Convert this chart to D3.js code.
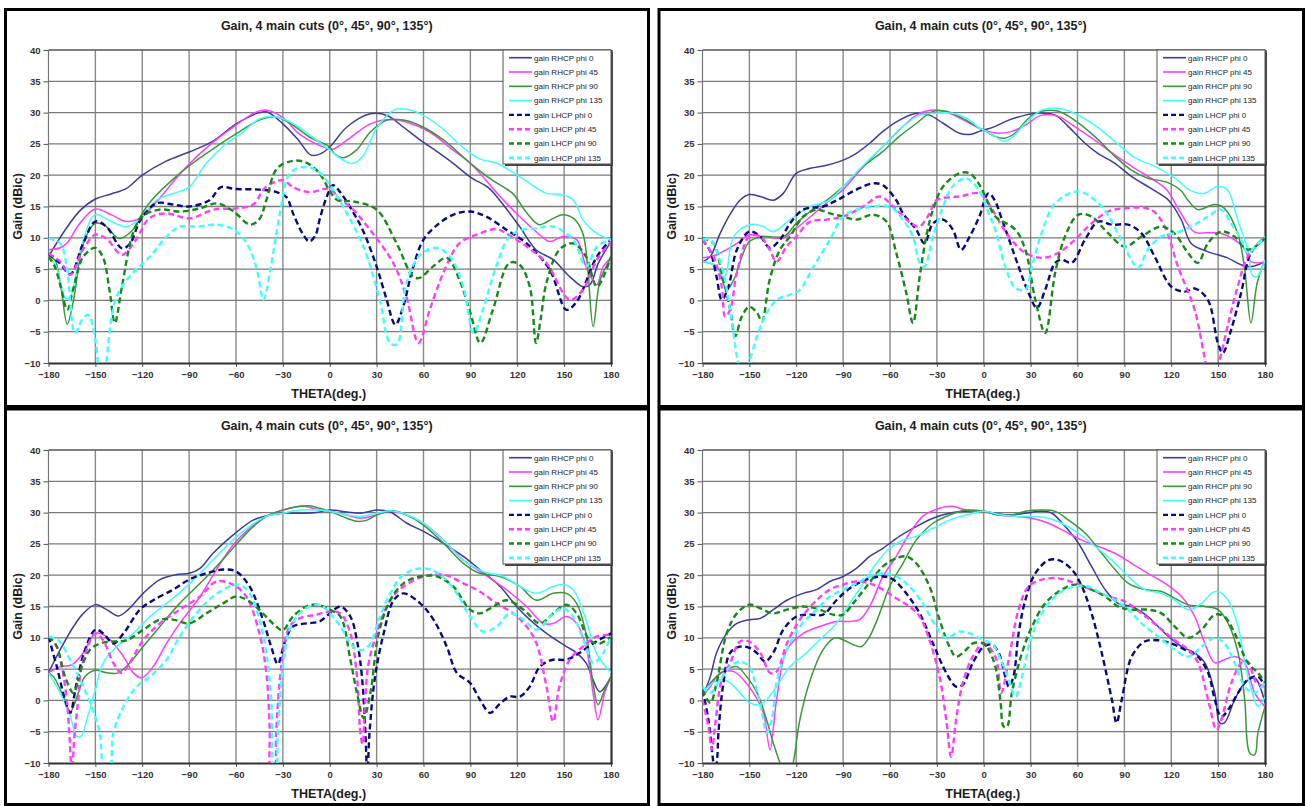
<!DOCTYPE html>
<html><head><meta charset="utf-8">
<script src="https://cdn.jsdelivr.net/npm/d3@7"></script>
<style>
html,body{margin:0;padding:0;background:#fff;}
svg{display:block;}
text{font-family:"Liberation Sans", Arial, sans-serif;}
</style></head><body>
<svg id="chart" width="1306" height="806"></svg>
<script>
// Axis ticks
const thetaTicks = [-180, -150, -120, -90, -60, -30, 0, 30, 60, 90, 120, 150, 180];
const gainTicks = [-10, -5, 0, 5, 10, 15, 20, 25, 30, 35, 40];
const chartTitle = "Gain, 4 main cuts (0°, 45°, 90°, 135°)";
const xTitle = "THETA(deg.)";
const yTitle = "Gain (dBic)";
const seriesNames = ["gain RHCP phi 0", "gain RHCP phi 45", "gain RHCP phi 90", "gain RHCP phi 135",
                     "gain LHCP phi 0", "gain LHCP phi 45", "gain LHCP phi 90", "gain LHCP phi 135"];

// ---- top-left cut set: [theta (deg), gain (dBic)] ----
const tlRhcp0 = [[-180,7],[-170,11],[-160,14.3],[-150,16.2],[-140,17],[-130,17.9],[-120,20],[-105,22.2],[-90,23.7],[-75,25.4],[-60,28.2],[-45,30],[-40,30.1],[-30,28.2],[-20,25.6],[-12,23.2],[-6,23.4],[0,24.5],[11,27.7],[26,29.8],[37,29.5],[47,27.7],[58,25.6],[68.5,23.8],[79,21.9],[90,19.7],[102,17.9],[110,15.6],[121.5,11.8],[132,8.1],[143,6.5],[153.6,3.8],[162,2.2],[166.5,2.5],[172,6],[180,9.4]];
const tlRhcp45 = [[-180,8.1],[-172.5,8.4],[-168,9.2],[-160,12.3],[-150,14.6],[-140,13.7],[-130,12.6],[-121.5,13.1],[-110,16],[-100,19],[-90,21.8],[-75,25.2],[-60,28],[-48,30],[-41,30.4],[-30,29.2],[-19.5,26.6],[-7,24.8],[0,24.2],[2.5,24.2],[11,25.6],[26,28.2],[38.7,28.9],[49,28.5],[64,26.9],[79,24],[90,21.9],[109,16.6],[121.5,13.4],[132,11],[140.8,9.4],[149,10.2],[158,9.7],[164,5.4],[170.8,2.5],[175,5.4],[180,6.8]];
const tlRhcp90 = [[-180,7],[-176,6.5],[-172,2],[-168,-3.8],[-164,0],[-157.7,9.1],[-150,12.3],[-143,11.8],[-135,9.9],[-126,11.3],[-120,13.9],[-114,16],[-96,20.3],[-84,22.6],[-73,24.5],[-60,26.6],[-45,28.8],[-34,29.3],[-23,27.9],[-13,26.1],[0,24.5],[3,23.4],[9,22.8],[17,24],[26,26.9],[36.5,28.8],[47,28.8],[58,27.9],[73,25.6],[90,21.9],[104,19.2],[117,17.1],[126,14],[134,12.1],[143,13.1],[149,13.7],[156,13.1],[162,10.7],[165,5.4],[168.6,-4.2],[173,3.2],[180,6.8]];
const tlRhcp135 = [[-180,7],[-175,5.4],[-169,0.3],[-166,0.6],[-159,8.6],[-150,13.7],[-140,12.6],[-130,11.8],[-121,13.1],[-111,16],[-101,17],[-90,18.1],[-79,21.9],[-66,25.1],[-57,26.6],[-45,29],[-34,29.3],[-23,28.2],[-8.5,25.6],[0,24],[5,23],[11,22.1],[15,21.9],[21.6,23.2],[30,27.5],[41,30.4],[47,30.6],[58,29.8],[71,27.7],[85,24.5],[96,22.6],[107,21.9],[117,20.5],[128,18.7],[138.6,17.1],[149,16.9],[156,16],[162,12.9],[171,10.7],[180,9.7]];
const tlLhcp0 = [[-180,7.5],[-173,6],[-166,4.2],[-158,9],[-150,12.6],[-143,11.8],[-133,8.3],[-128,9],[-121,12.9],[-111,15.5],[-100,15.3],[-90,15],[-77,16],[-69.6,18.1],[-61,17.8],[-45,17.7],[-34,17.3],[-27.7,16.5],[-23.5,13.9],[-17,10.5],[-13,9.4],[-9,10.5],[-6.5,12.9],[-2,16.5],[2,18.4],[6,17.5],[12.8,15],[21,11.3],[30,5.4],[36,0.5],[42,-3.9],[47,-1],[53,5],[60,9.7],[70,12.3],[80,13.8],[90,14.2],[100,13.4],[113,11.3],[126,9.1],[140.8,4.9],[151.5,-1.5],[158,-0.2],[171,7],[180,9.7]];
const tlLhcp45 = [[-180,7.5],[-172.5,6.2],[-166,4.1],[-158,8.1],[-150,10.5],[-143,9.9],[-133,7.3],[-124,9.7],[-115.5,13.1],[-104.5,13.9],[-89.6,13.1],[-74.5,14.5],[-60,14.7],[-49,15.3],[-41,18.1],[-30,19.2],[-23.6,18.1],[-13,17.3],[0,17.8],[6.8,16],[13,15],[25.7,11.3],[40.6,6],[49,0.6],[56.8,-6.8],[64,-1.5],[72.7,4.4],[83,9.1],[96,10.7],[107,11.4],[113,10.7],[126,8.6],[138.6,6],[153.6,0.1],[162,1.7],[171,6.5],[180,9.4]];
const tlLhcp90 = [[-180,7],[-176,5.4],[-172,2],[-168,-1.5],[-164,2],[-157.7,7],[-150,8.4],[-145,6.8],[-141,1.7],[-137.5,-3.6],[-133,2.2],[-126,10.7],[-120,13.4],[-109,14.5],[-96,14.2],[-83,14.7],[-72,15.5],[-61.5,14.2],[-51,12.1],[-45,13],[-40.6,16],[-34,21],[-23.6,22.3],[-15,22],[-6.6,20.3],[0,17.5],[5,16],[15.3,15.8],[30,14.5],[42.8,9.1],[53.4,3.8],[57.6,3.6],[66,5.4],[75,6.8],[83,3.3],[90,-2],[96.4,-6.8],[104.4,-1.5],[115,6],[121.5,5.7],[128,2.2],[132,-6.8],[135,-3],[138.6,2.7],[147,8.1],[155.8,9.1],[164,7],[171,2.2],[180,7]];
const tlLhcp135 = [[-180,9.9],[-172.5,9.1],[-168.3,5.4],[-163,-5.2],[-158.5,-3.1],[-154.5,-2.3],[-150,-6.3],[-147,-12],[-144,-13],[-142.8,-9.5],[-136.4,0.6],[-126,4.4],[-115,7],[-104.5,10.2],[-96,11.8],[-85,11.8],[-72,12.1],[-61.5,11.3],[-53,9.1],[-46.6,4.9],[-42.5,0.1],[-38,4.9],[-31.9,13.9],[-25.5,20.3],[-17,21.3],[-8.5,20.8],[0,18.5],[5,16.5],[11,13.9],[21.6,8.6],[32,0.1],[38.6,-6.8],[43,-7],[49,2.7],[57.9,7.3],[68.6,8.4],[77,7],[85.5,2.2],[92,-5.2],[98,-1.5],[106.5,5.4],[115,10.2],[123.6,11.3],[132,11.5],[143,11.8],[155.8,9.7],[164,5.4],[171,8.6],[180,9.7]];

// ---- top-right cut set ----
const trRhcp0 = [[-180,6.2],[-175,7],[-168.7,10.7],[-162,13.9],[-156,16],[-150,16.9],[-143,16.6],[-134.7,16],[-128.3,17.1],[-120,20.3],[-111,21.1],[-100.6,21.6],[-90,22.4],[-81.5,23.5],[-73,25.1],[-64.5,27],[-54,28.8],[-43,29.9],[-34.7,29.6],[-26,28.3],[-15.5,26.7],[-9,26.5],[-2.8,27],[0,27.2],[7.4,27.8],[16,28.8],[26.6,29.6],[33,29.9],[45.7,29.6],[54,27.8],[64.8,25.1],[73,23.5],[84,21.9],[94.5,19.8],[107,17.9],[117,16.3],[120,15.5],[126.4,12.9],[132.8,9.1],[143.4,7.8],[156,6.8],[164.7,5.7],[171,5.4],[180,6.2]];
const trRhcp45 = [[-180,6.8],[-171,7.3],[-158,9.1],[-150,10.5],[-141,10.2],[-128,10],[-120,11.5],[-107,14.2],[-98.5,16],[-90,17.7],[-77,21.4],[-64.5,24.6],[-54,27.2],[-43,29.6],[-32.5,30.4],[-22,29.9],[-11.3,28.6],[-2.8,27.5],[0,27.2],[9.6,26.7],[18,27],[26.6,28],[37,29.6],[47.8,29.4],[58,27.8],[71,25.6],[84,23.2],[96.7,21.1],[109,19.2],[117,17.7],[126,14],[135,10.9],[143,10.8],[152,10.7],[162.7,9.3],[167,8.2],[171,6.2],[180,6.1]];
const trRhcp90 = [[-180,6.2],[-171,5.4],[-164.5,1.7],[-160,3.3],[-150,9.4],[-141,10.2],[-128,10.2],[-120,12.3],[-107,15],[-100.6,16],[-90,18.2],[-77,21.4],[-64.5,23.8],[-54,26.2],[-43,28.3],[-32.5,30.2],[-24,30.2],[-11.3,28.8],[-2.8,27.5],[0,27.2],[7.4,26.2],[12.8,25.9],[20,26.7],[28.7,29.1],[37,30.2],[47.8,30.2],[58,28.8],[71,26.2],[84,23],[94.5,20.8],[105,19.5],[117,18.9],[126,17.6],[130.7,16],[137,14.5],[147.7,15.3],[154,14.7],[162.5,10.7],[166.8,5.4],[171,-3.6],[175,2.8],[180,6.5]];
const trRhcp135 = [[-180,6.2],[-173,5.7],[-166,3.8],[-160,10.2],[-150,12.1],[-141,11.8],[-134.7,11],[-124,12.9],[-111,15],[-98.5,16],[-90,18.2],[-77,21.6],[-64.5,24.6],[-51.7,27.8],[-41,29.6],[-30.4,29.9],[-20,29.9],[-9,28.8],[-2.8,27.5],[0,27.2],[7.4,26.2],[12.8,25.4],[19,26.2],[26.6,28.3],[37,30.4],[47.8,30.7],[58,29.9],[71,28],[84,25.4],[96.7,22.8],[109,21.5],[122,19.6],[132.8,17.5],[141,17.1],[149.8,18.2],[156,17.7],[162.5,12.9],[169,8.1],[172,4],[175,3.8],[180,6.5]];
const trLhcp0 = [[-180,9.7],[-175,7.8],[-171,3.8],[-167.7,0.1],[-163.4,2.2],[-158,8.1],[-150,11],[-143,10.2],[-137,8.4],[-130.4,9.7],[-124,12.3],[-115.5,14.5],[-102.8,15],[-94,16],[-81.5,17.7],[-71,18.7],[-64.5,18.4],[-56,16],[-51.7,13.9],[-43.2,11.3],[-37.9,9.1],[-32.5,12.3],[-26,12.9],[-19.8,11.3],[-14.5,8.1],[-9,10.2],[-2.8,13.4],[3,17.1],[7,16],[11.7,12.9],[22.3,5.4],[28.7,1.2],[34,-1.2],[39.3,1.7],[45.7,6],[50,6.5],[56.3,6],[64.8,9.7],[73.3,12.6],[81.8,12.1],[92.4,12.1],[101,10.7],[109.4,7],[120,2.2],[128.5,1.4],[135,1.9],[143.4,0.1],[149.8,-6.8],[153,-8.4],[158.3,-4.7],[164.7,1.2],[171,7.6],[180,10]];
const trLhcp45 = [[-180,9.7],[-173,7],[-167.7,2.2],[-165.5,-2.6],[-162.3,-1.5],[-158,4.4],[-150,10.2],[-143,10.2],[-137,8.1],[-132.6,6.2],[-126.2,8.6],[-120,10.2],[-111,12.6],[-100.6,12.9],[-90,13.4],[-77,15],[-66.6,16.6],[-56,14.5],[-45.3,12.1],[-41,11.8],[-34.7,13.9],[-30.4,16],[-15.5,16.6],[-2.8,17.1],[3,15.5],[16,10.2],[26.6,7.6],[37,6.8],[47.8,7.6],[58.4,9.7],[69,12.3],[79.7,14.2],[90,14.7],[107,14.5],[115.8,11.8],[124.3,5.4],[135,-1.5],[141.3,-9],[144.5,-12],[148,-12],[151,-9.5],[156,-4.2],[162.5,2.2],[169,7],[180,10.2]];
const trLhcp90 = [[-180,9.9],[-173,9.1],[-167.7,4.4],[-162.3,-1.5],[-159,-5.7],[-154.9,-2.6],[-150,-1],[-145,-2],[-142,-3.4],[-137,3.3],[-130.4,8.1],[-124,10.2],[-115.5,13.4],[-107,14.5],[-98.5,13.9],[-90,13.4],[-81.5,12.9],[-71,13.7],[-62.3,12.6],[-56,7.6],[-49.6,1.2],[-45.3,-3.6],[-41,3.8],[-36.8,10.2],[-32.5,14.5],[-26,18.2],[-15.5,20.3],[-9,20.3],[-2.8,18.5],[3,15.5],[7.4,13.4],[20.2,11.3],[26.6,8.1],[33,0.1],[39.3,-5.2],[45.7,4.4],[52,10.2],[60.6,13.7],[69,13.4],[79.7,10.7],[90.3,8.6],[101,10.2],[113.7,11.8],[122,10.7],[130.7,7.6],[137,6],[143.4,9.1],[152,11],[160.4,10.2],[169,8.1],[180,9.9]];
const trLhcp135 = [[-180,9.7],[-175,9.7],[-167.7,5.4],[-162.3,-1.5],[-158,-8.9],[-155,-12],[-152,-12],[-149.6,-9.5],[-141,-3.1],[-132.6,0.1],[-124,0.9],[-117.7,1.7],[-109,5.4],[-98.5,9.7],[-90,13.4],[-81.5,14.5],[-71,15],[-60,15],[-51.7,12.9],[-45.3,10.2],[-41,6],[-37.9,5.4],[-32.5,10.2],[-26,15],[-20,18.2],[-11.3,19.5],[-2.8,17.5],[3,14],[7.4,11.3],[13.8,5.4],[20.2,2],[26.6,1.7],[30.8,5.4],[37,10.7],[45.7,15.5],[60.6,17.4],[75.4,15],[86,10.7],[94.5,6.5],[98.8,5.2],[105,8.1],[113.7,10.2],[122,10.7],[132.8,11.8],[143.4,13.4],[152,14.5],[158.3,12.3],[164.7,9.7],[169,7.6],[174,8.6],[180,10.2]];

// ---- bottom-left cut set ----
const blRhcp0 = [[-180,4.4],[-172.5,8.1],[-164,11.8],[-157.7,13.9],[-150,15.3],[-142.8,14.5],[-135.3,13.5],[-129,14.5],[-119.4,17.1],[-108.7,19.3],[-98,20.1],[-90,20.3],[-83,21.1],[-74.7,23.5],[-62,26.4],[-49,28.8],[-38.5,29.6],[-30,29.9],[-19.4,29.9],[-8.7,30],[0,30.4],[11,30.1],[19.6,29.9],[30,30.4],[38.7,30.1],[49.4,28.3],[60,27],[72.8,25.1],[85.5,23],[96,20.9],[109,18.2],[119.6,15],[128,12.9],[138.7,10.7],[151.5,8.6],[158,7.6],[164,6],[168.5,3.3],[172.8,1.4],[180,3.8]];
const blRhcp45 = [[-180,4.4],[-172.5,5.4],[-165,5.7],[-157.7,7.6],[-150,10.7],[-142.8,10.2],[-132,7],[-125.7,4.4],[-120.4,3.6],[-113,5.4],[-104.5,9.1],[-96,12.3],[-83,16.6],[-72.5,20.9],[-62,24.8],[-51.3,27.5],[-40.6,29.4],[-30,30.4],[-17.2,31],[-6.6,30.4],[0,30.2],[11,29.6],[19.6,29.1],[30,29.6],[38.7,30.2],[49.4,29.6],[60,28.3],[72.8,25.6],[85.5,22.4],[98,20.3],[113,17.7],[126,15],[136.6,12.3],[143,12.3],[151.5,13.4],[158,12.3],[164,8.6],[168.5,1.2],[171.7,-3.1],[176,1.2],[180,3.8]];
const blRhcp90 = [[-180,4.4],[-176.8,3.8],[-170.4,0.6],[-166,-1.8],[-160.9,1.2],[-156.6,3.8],[-150,4.8],[-142.8,4.4],[-135.3,4.4],[-129,5.7],[-119.4,8.6],[-108.7,11.8],[-96,15.5],[-83,18.7],[-72.5,21.4],[-62,24.3],[-51.3,27.2],[-40.6,29.4],[-30,30.4],[-19.4,31],[-13,31.1],[-6.6,30.7],[0,30.2],[11,29.1],[17.4,28.6],[23.8,28.8],[32.3,29.9],[40.9,30.3],[49.4,29.6],[60,28],[72.8,25.1],[85.5,21.9],[96,20.3],[109,19.8],[121.7,18.2],[132.3,16],[143,17.1],[151.5,17.1],[158,15.5],[164,10.7],[168.5,2.8],[171.7,-0.7],[176,1.7],[180,3.8]];
const blRhcp135 = [[-180,4.4],[-172.5,1.2],[-166,-2.6],[-162,-5.7],[-159,-5.7],[-155.5,-3.1],[-150,1.7],[-145,6],[-136.4,8.6],[-125.7,10.7],[-115,13.4],[-104.5,15.5],[-93.8,17.7],[-83,20.3],[-72.5,23],[-62,25.6],[-51.3,27.8],[-40.6,29.4],[-30,29.9],[-19.4,30.4],[-6.6,30.4],[0,30.2],[11,29.6],[19.6,29.4],[30,29.9],[38.7,30.3],[47,29.9],[60,28.3],[72.8,25.6],[85.5,22.4],[98,20.6],[111,19.8],[121.7,18.2],[132.3,17.1],[143,18.2],[149.4,18.5],[155.7,17.7],[164,12.9],[170.6,7.6],[180,4.4]];
const blLhcp0 = [[-180,10.2],[-174.7,5.4],[-169.4,0.1],[-166.2,-2],[-162,2.8],[-156.6,8.1],[-150,11.3],[-145,10.7],[-138.5,9.1],[-132,10.7],[-121.5,14.5],[-113,16],[-100.2,17.7],[-90,19.3],[-79,20.3],[-68.3,20.9],[-60,20.6],[-51.3,18.2],[-42.8,12.9],[-37.5,8.6],[-33.2,5.8],[-29,9.1],[-23.6,11.8],[-15,12.3],[-6.6,12.6],[0,13.9],[6.8,15],[13.2,13.4],[17.4,9.6],[20.6,3.8],[22.8,-5],[24,-12],[25.5,-5],[29,3.8],[34.5,10.7],[40.9,16],[47.2,17.1],[57.9,15.5],[66.4,12.9],[74.9,8.6],[81.3,4.4],[89.8,2.8],[96.2,0.1],[102.6,-2],[109,-0.5],[115.3,0.6],[121.7,0.6],[128,2.2],[134.5,5.4],[143,6.5],[151.5,6.5],[160,7.6],[168.5,9.1],[180,10.7]];
const blLhcp45 = [[-180,10.2],[-175.7,9.1],[-171.5,5.4],[-168.3,0.1],[-166.5,-6],[-165,-12],[-163.5,-6],[-161,0],[-158.7,5.4],[-150,10.7],[-145,9.6],[-138.5,6],[-133.2,4.4],[-128,6],[-119.4,9.6],[-108.7,12.3],[-96,14.5],[-83,16.6],[-72.5,19],[-62,18.5],[-53.4,16.6],[-45,10.7],[-40.6,4.4],[-38.5,-4],[-37.5,-12],[-35.5,-12],[-34.3,-5.2],[-31,5.4],[-25.7,11.8],[-19.4,13.1],[-8.7,13.7],[0,14.2],[6.8,13.9],[13.2,10.7],[17.4,3.8],[19.6,-5.2],[21,-7],[22.5,-1],[24.5,5.4],[30,10.7],[38.7,16],[47.2,18.2],[60,19.8],[72.8,20.1],[85.5,18.7],[96,17.4],[106.8,15.5],[117.4,13.9],[126,11.8],[132.3,9.1],[138.7,2.2],[143,-3.4],[147,2.2],[153.6,6.5],[162,8.6],[170.6,10.2],[180,10.5]];
const blLhcp90 = [[-180,10.2],[-174.7,8.6],[-169.4,3.8],[-164,1.2],[-158.7,5.4],[-153.4,8.1],[-147,9.1],[-138.5,9.4],[-130,9.6],[-119.4,11.3],[-108.7,12.9],[-100.2,12.9],[-90,12.3],[-79,13.9],[-68.3,15.5],[-60,16.6],[-51.3,15.8],[-42.8,13.9],[-34.3,11.8],[-30,11.2],[-23.6,13.4],[-15,15],[-8.7,15.3],[0,14.5],[6.8,13.4],[13.2,6.5],[17.4,1.2],[21.7,-2.8],[26,1.2],[31.3,10.7],[38.7,16],[47.2,18.7],[57.9,19.8],[68.5,19.8],[79,18.2],[89.8,14.5],[96.2,13.9],[104.7,15],[113.2,16],[124,14.5],[134.5,12.3],[143,13.9],[151.5,15.3],[158,13.9],[166.4,9.6],[172.8,9.1],[180,10.2]];
const blLhcp135 = [[-180,10.2],[-173.6,9.6],[-166.2,6.5],[-157.7,2.2],[-150,-2.6],[-147,-5.7],[-144,-12],[-141,-12],[-138.5,-5.2],[-132,-1],[-123.6,2.2],[-115,3.8],[-104.5,6.5],[-96,10.2],[-85.3,13.9],[-74.7,16.6],[-64,18.2],[-57.7,18.5],[-51.3,17.1],[-45,12.9],[-40.6,7.6],[-37.5,0.1],[-35.5,-12],[-34.5,-12],[-33.2,-5.2],[-30,5.4],[-25.7,11.3],[-19.4,13.9],[-13,15],[-6.6,15.3],[0,13.9],[6.8,11.8],[13.2,9.1],[17.4,8.1],[21.7,8.1],[26,9.1],[31.3,12.9],[38.7,17.1],[47.2,20.1],[60,21.1],[70.6,20.1],[81.3,17.1],[89.8,13.4],[98.3,11],[106.8,11.8],[115.3,13.9],[124,12.9],[132.3,11.3],[143,13.9],[149.4,14.7],[155.7,13.4],[164,8.6],[168.5,6],[175,7.6],[180,10.2]];

// ---- bottom-right cut set ----
const brRhcp0 = [[-180,0.6],[-175,3.8],[-171,7.6],[-164.5,10.7],[-158,12.3],[-150,12.9],[-143,13.1],[-134.7,14.5],[-126,16],[-115.5,17.1],[-107,17.7],[-98.5,19],[-90,19.8],[-81.5,21.1],[-73,23],[-64.5,24.3],[-54,26.2],[-43,27.8],[-32.5,29.1],[-22,29.9],[-11.3,30.2],[0,30.2],[7.4,29.9],[16,29.6],[26.6,29.9],[37.2,30.2],[43.6,29.9],[52,27.8],[60.6,25.1],[69,21.4],[77.7,17.7],[86,15.5],[94.7,15],[105,13.4],[116,10.7],[126.6,8.6],[135,7.6],[141.5,6],[147.9,1.2],[151,-3.6],[154,-3.6],[160.6,0.1],[167,2.8],[173.4,3.6],[180,-0.4]];
const brRhcp45 = [[-180,0.6],[-175,2.2],[-168.7,4.4],[-160,4.6],[-153.8,3.3],[-147.4,1.2],[-141,-2],[-136.8,-7.9],[-132.6,0.1],[-126,8.1],[-115.5,10.7],[-105,11.8],[-94.3,12.6],[-85.7,12.6],[-79.4,12.9],[-73,15],[-64.5,19.8],[-56,23],[-47.5,26.7],[-39,29.4],[-28.3,30.7],[-20,31],[-11.3,30.4],[0,30.2],[9.6,29.6],[20.2,29.4],[30.9,29.1],[41.5,28.3],[52,27],[62.8,25.6],[73.4,24.6],[84,23.5],[94.7,21.9],[105,20.3],[116,18.7],[126.6,16.6],[135,13.4],[141.5,9.1],[147.9,6],[154,6.5],[160.6,7],[167,6],[173.4,1.2],[180,-1]];
const brRhcp90 = [[-180,1.2],[-171,3.8],[-162.3,5.2],[-158,5.4],[-151.7,3.8],[-145,1.2],[-139,-3.1],[-134.7,-6.8],[-130.4,-10],[-126,-13],[-122,-10],[-117.7,-3.1],[-111,3.3],[-102.8,8.1],[-95.3,10],[-90,9.7],[-83.6,8.9],[-78.3,8.6],[-73,10.2],[-66.6,13.9],[-60.2,18.2],[-51.7,21.9],[-43.2,25.6],[-32.5,28.3],[-22,29.6],[-11.3,30.4],[0,30.2],[9.6,29.6],[18,29.6],[26.6,30.2],[37.2,30.4],[45.7,30.2],[54.3,28.8],[65,26.7],[75.5,23.5],[84,20.9],[92.6,18.7],[103,17.7],[113.8,17.4],[122.3,16.3],[130.9,15.3],[141.5,15],[150,14.5],[156.4,12.3],[162.8,7.6],[167,0.1],[170.2,-8.4],[173.4,-8.7],[175.5,-5.2],[180,-1]];
const brRhcp135 = [[-180,1.2],[-175,2.5],[-168.7,3.3],[-162.3,2.8],[-156,1.2],[-149.6,-0.4],[-143.2,-0.7],[-139,0.1],[-132.6,2.2],[-124,5.4],[-113.4,7.6],[-102.8,10.2],[-94.3,12.3],[-85.7,15.5],[-77.2,18.7],[-68.7,21.9],[-60.2,24.3],[-51.7,25.6],[-43.2,26.2],[-32.5,27.5],[-22,28.8],[-11.3,29.6],[0,30.2],[11.7,29.6],[20.2,29.4],[30.9,29.4],[41.5,29.1],[50,28.3],[60.6,26.7],[71.3,24.6],[82,22.4],[92.6,19.8],[103,17.7],[113.8,17.1],[122.3,16],[130.9,14.5],[139.4,15.5],[145.7,17.1],[150,17.4],[156.4,16],[162.8,11.8],[167,6],[171.3,1.7],[175.5,-1],[180,0.6]];
const brLhcp0 = [[-180,1.7],[-176.2,-3.1],[-173.5,-9],[-172,-12],[-170.5,-9],[-169.8,-5.2],[-166.6,2.8],[-162.3,7.6],[-156,8.6],[-150,8.4],[-145.3,7.6],[-140,6.2],[-134.7,7.6],[-128.3,11.3],[-119.8,13.4],[-111.3,13.7],[-102.8,13.7],[-94.3,16],[-85.7,17.9],[-75.1,19.3],[-64.5,19.8],[-58,19.3],[-49.6,17.1],[-41,13.9],[-32.5,9.1],[-24,4.4],[-17.7,2.2],[-13.4,2.5],[-7,6],[0,8.6],[5.3,8.9],[9.6,7.6],[13.8,3.8],[16,2.2],[19,3.8],[22.3,10.7],[26.6,16],[33,20.3],[41.5,22.4],[47.9,22.4],[56.4,20.9],[62.8,18.2],[69,13.9],[75.5,7.6],[82,0.1],[85,-3.6],[88.3,0.1],[94.7,7],[103,9.4],[111.7,9.6],[120,9.1],[128.7,8.1],[137,7],[143.6,4.4],[147.9,0.1],[152,-2.6],[156.4,-1.5],[162.8,1.2],[169,3.3],[175.5,3.8],[180,2.2]];
const brLhcp45 = [[-180,0.1],[-176.2,-4.2],[-174,-7.9],[-172,-4.2],[-167.7,3.3],[-162.3,6],[-156,9.4],[-150,9.4],[-143,7.6],[-136.8,4.4],[-132.6,4.6],[-126,9.1],[-117.7,12.9],[-107,16],[-98.5,17.7],[-90,18.5],[-81.5,19],[-73,18.7],[-64.5,17.7],[-56,16.3],[-47.5,15],[-41,13.4],[-34.7,9.6],[-28.3,3.8],[-24,-3.1],[-20.9,-9],[-17.7,-3.1],[-13.4,2.8],[-7,7],[0,9.1],[7.4,7],[11.2,1.2],[16,6.5],[22.3,14.5],[28.7,18.2],[37.2,19.3],[47.9,19.5],[58.5,18.7],[69,17.7],[79.8,16.6],[90.4,15.8],[101,13.9],[111.7,11.8],[122.3,9.6],[130.9,8.1],[137.2,6],[143.6,0.1],[149,-4.7],[152,-3.1],[158.5,2.8],[165,6],[169,6.2],[174.5,2.8],[180,2.2]];
const brLhcp90 = [[-180,1.7],[-175,-0.4],[-171,2.8],[-164.5,10.7],[-158,13.9],[-150,15.3],[-143,14.7],[-134.7,13.9],[-126,14.5],[-115.5,15],[-105,14.5],[-96.4,13.7],[-90,13.7],[-83.6,15.5],[-75,18.2],[-64.5,21.4],[-56,22.7],[-49.6,23],[-43.2,21.9],[-34.7,18.2],[-28.3,12.9],[-22,8.6],[-17.7,7],[-11.3,8.1],[-7,9.1],[0,9.1],[3.2,8.1],[7.4,5.4],[10.6,0.1],[12.8,-4.2],[14.9,-4.2],[18,1.2],[24.5,7.6],[30.9,11.8],[39.3,15.5],[50,17.7],[58.5,18.5],[67,17.9],[77.7,16.6],[86,15],[94.7,14.5],[105,14.5],[113.8,13.9],[122.3,11.8],[130.9,10],[139.4,11.3],[147.9,13.7],[154,13.4],[160.6,10.7],[169,6],[175.5,4.4],[180,2.8]];
const brLhcp135 = [[-180,2.2],[-175,1.2],[-168.7,3.3],[-162.3,5.4],[-156,6.2],[-150,5.4],[-145.3,1.7],[-141,-3.1],[-139,-5.2],[-135.7,-3.1],[-132.6,2.8],[-126,8.1],[-117.7,11.8],[-107,14.5],[-98.5,16.6],[-90,17.7],[-81.5,18.7],[-73,19.8],[-64.5,20.3],[-56,19.8],[-47.5,18.2],[-39,15.5],[-30.5,11.8],[-24,10],[-15.5,11],[-9,10.7],[0,9.6],[5.3,9.1],[11.7,6],[16,3.3],[20.2,0.6],[24.5,3.8],[29.8,9.6],[37.2,13.9],[47.9,17.1],[58.5,18.2],[67,18.2],[75.5,17.1],[84,16],[92.6,14.5],[101,12.3],[111.7,10.2],[122.3,8.1],[130.9,7],[139.4,8.6],[147.9,10],[154,9.1],[160.6,6],[167,2.2],[173.4,1.2],[180,2.8]];

// Series styling (RHCP solid, LHCP dashed)
const seriesColors = ["#3c3c9c", "#ff3cff", "#379937", "#3cffff", "#0a0a80", "#ff3cff", "#158a15", "#3cffff"];
const seriesDashed = [false, false, false, false, true, true, true, true];

// Four panels: frame box, plot origin offset and the data sets
const panels = [
  { frame: [5.5, 9.5, 643, 397], dx: 0,   dy: 0,   series: [tlRhcp0, tlRhcp45, tlRhcp90, tlRhcp135, tlLhcp0, tlLhcp45, tlLhcp90, tlLhcp135] },
  { frame: [659, 9.5, 644.5, 397], dx: 654, dy: 0, series: [trRhcp0, trRhcp45, trRhcp90, trRhcp135, trLhcp0, trLhcp45, trLhcp90, trLhcp135] },
  { frame: [5.5, 409, 643, 395.5], dx: 0,   dy: 400, series: [blRhcp0, blRhcp45, blRhcp90, blRhcp135, blLhcp0, blLhcp45, blLhcp90, blLhcp135] },
  { frame: [659, 409, 644.5, 395.5], dx: 654, dy: 400, series: [brRhcp0, brRhcp45, brRhcp90, brRhcp135, brLhcp0, brLhcp45, brLhcp90, brLhcp135] }
];

const svg = d3.select("#chart");
svg.append("rect").attr("width", 1306).attr("height", 806).attr("fill", "#fff");

panels.forEach((p, pi) => {
  const L = 48.5 + p.dx, R = 611 + p.dx, T = 50 + p.dy, B = 363 + p.dy;
  const x = d3.scaleLinear().domain([-180, 180]).range([L, R]);
  const y = d3.scaleLinear().domain([-10, 40]).range([B, T]);
  const g = svg.append("g");

  // outer frame
  g.append("rect").attr("x", p.frame[0]).attr("y", p.frame[1])
    .attr("width", p.frame[2]).attr("height", p.frame[3])
    .attr("fill", "none").attr("stroke", "#000").attr("stroke-width", 3);

  // title
  g.append("text").attr("x", (L + R) / 2 - 3).attr("y", 30 + p.dy)
    .attr("text-anchor", "middle").attr("font-size", 12.5).attr("font-weight", "bold")
    .attr("fill", "#1c1c1c").text(chartTitle);

  // grid
  g.append("g").selectAll("line").data(thetaTicks.slice(1, -1)).join("line")
    .attr("x1", d => x(d)).attr("x2", d => x(d)).attr("y1", T).attr("y2", B)
    .attr("stroke", "#8a8a8a").attr("stroke-width", 1.4);
  g.append("g").selectAll("line").data(gainTicks.slice(1, -1)).join("line")
    .attr("y1", d => y(d)).attr("y2", d => y(d)).attr("x1", L).attr("x2", R)
    .attr("stroke", "#7a7a7a").attr("stroke-width", 1.3);

  // axes
  const yAxis = d3.axisLeft(y).tickValues(gainTicks).tickSize(5).tickPadding(3).tickFormat(d3.format("d"));
  const xAxis = d3.axisBottom(x).tickValues(thetaTicks).tickSize(4).tickPadding(4).tickFormat(d3.format("d"));
  const ya = g.append("g").attr("transform", `translate(${L},0)`).call(yAxis);
  const xa = g.append("g").attr("transform", `translate(0,${B})`).call(xAxis);
  [ya, xa].forEach(a => {
    a.select(".domain").remove();
    a.selectAll("line").attr("stroke", "#555");
    a.selectAll("text").attr("font-size", 9.5).attr("font-weight", "bold")
      .attr("fill", "#333").attr("font-family", '"Liberation Sans", Arial, sans-serif');
  });

  // plot frame with shadowed right / bottom edges
  g.append("line").attr("x1", L).attr("x2", R).attr("y1", T).attr("y2", T).attr("stroke", "#555").attr("stroke-width", 1.4);
  g.append("line").attr("x1", L).attr("x2", L).attr("y1", T).attr("y2", B).attr("stroke", "#777").attr("stroke-width", 1.2);
  g.append("line").attr("x1", R + 0.5).attr("x2", R + 0.5).attr("y1", T).attr("y2", B + 1.5).attr("stroke", "#333").attr("stroke-width", 2.2);
  g.append("line").attr("x1", L).attr("x2", R + 1.5).attr("y1", B + 0.5).attr("y2", B + 0.5).attr("stroke", "#333").attr("stroke-width", 2.2);

  // axis titles
  g.append("text").attr("x", (L + R) / 2 - 1).attr("y", 397.5 + p.dy)
    .attr("text-anchor", "middle").attr("font-size", 12.5).attr("font-weight", "bold")
    .attr("fill", "#1c1c1c").text(xTitle);
  g.append("text").attr("transform", `translate(${L - 31},${(T + B) / 2}) rotate(-90)`)
    .attr("text-anchor", "middle").attr("dy", "0.35em").attr("font-size", 12.5).attr("font-weight", "bold")
    .attr("fill", "#1c1c1c").text(yTitle);

  // curves
  const clipId = "clip" + pi;
  svg.append("clipPath").attr("id", clipId).append("rect")
    .attr("x", L).attr("y", T).attr("width", R - L).attr("height", B - T);
  const line = d3.line().x(d => x(d[0])).y(d => y(d[1])).curve(d3.curveCatmullRom.alpha(0.5));
  const lg = g.append("g").attr("clip-path", `url(#${clipId})`);
  p.series.forEach((s, i) => {
    lg.append("path").attr("d", line(s)).attr("fill", "none")
      .attr("stroke", seriesColors[i])
      .attr("stroke-width", seriesDashed[i] ? 2.4 : 1.5)
      .attr("stroke-dasharray", seriesDashed[i] ? "6,3.5" : null)
      .attr("stroke-linejoin", "round");
  });

  // legend
  const bw = 108, bh = 114, bx = R - bw, by = T;
  g.append("rect").attr("x", bx + 2).attr("y", by + 2).attr("width", bw).attr("height", bh).attr("fill", "#444");
  g.append("rect").attr("x", bx).attr("y", by).attr("width", bw).attr("height", bh)
    .attr("fill", "#fff").attr("stroke", "#555").attr("stroke-width", 1);
  seriesNames.forEach((name, i) => {
    const ry = by + 7.7 + i * 14.3;
    g.append("line").attr("x1", bx + 6).attr("x2", bx + 29).attr("y1", ry).attr("y2", ry)
      .attr("stroke", seriesColors[i]).attr("stroke-width", seriesDashed[i] ? 2.4 : 1.6)
      .attr("stroke-dasharray", seriesDashed[i] ? "5,3" : null);
    g.append("text").attr("x", bx + 31).attr("y", ry).attr("dy", "0.35em")
      .attr("font-size", 8).attr("fill", "#222").text(name);
  });
});
</script>
</body></html>
